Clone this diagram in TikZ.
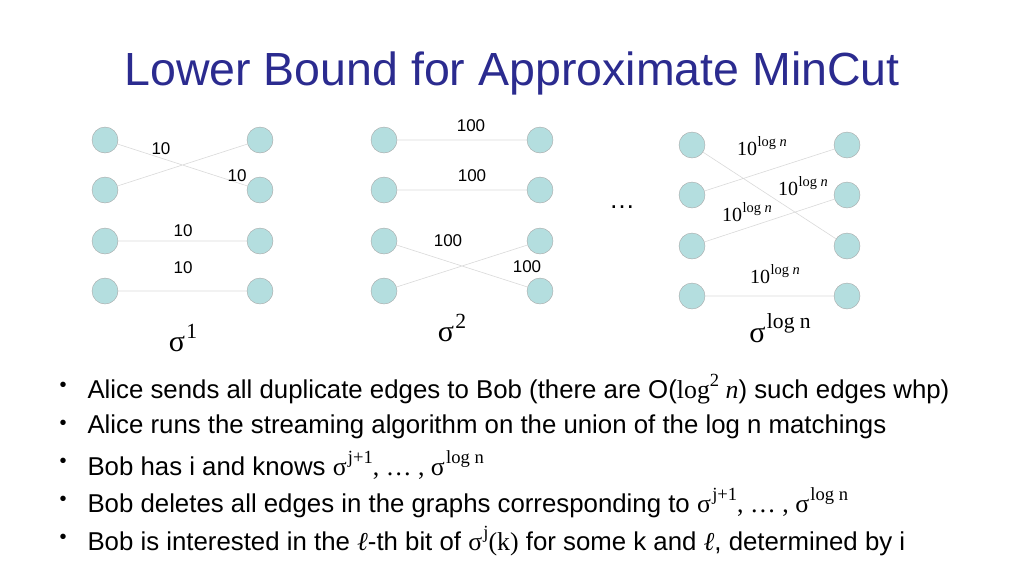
\documentclass[tikz,border=0pt]{standalone}
\usepackage{amsmath}
\usepackage[no-math]{fontspec}
\setmainfont{Liberation Sans}
\newfontfamily\mf{Liberation Serif}
\newcommand{\sgsup}[1]{{\mf σ\kern0.05em\raisebox{0.45em}{\scalebox{0.72}{#1}}}}
\newcommand{\tlog}{{\mf 10\kern0.03em\raisebox{0.45em}{\scalebox{0.72}{log \itshape n}}}}
\definecolor{nodefill}{HTML}{B4DEDF}
\definecolor{titleblue}{HTML}{2B2B8F}
\begin{document}
\begin{tikzpicture}[x=1pt,y=-1pt,
  vtx/.style={circle,draw=black!35,fill=nodefill,minimum size=26pt,inner sep=0pt},
  ed/.style={draw=black!15,line width=0.6pt},
  wl/.style={font=\fontsize{17}{19}\selectfont},
  tl/.style={font=\fontsize{20}{22}\selectfont},
  bl/.style={anchor=west,font=\fontsize{25.8}{28}\selectfont}]
\useasboundingbox (0,0) rectangle (1024,576);
\node[font=\fontsize{46.5}{50}\selectfont,text=titleblue] (title) at (512,73) {Lower Bound for Approximate MinCut};
\foreach \g/\xl/\xr/\yo in {a/105/260/0,b/384/540/0,c/692/847/5}{
  \foreach \i/\y in {1/140,2/190,3/241,4/291}{
    \node[vtx] (\g l\i) at (\xl,\y+\yo) {};
    \node[vtx] (\g r\i) at (\xr,\y+\yo) {};
  }}
\draw[ed] (al1)--(ar2) (al2)--(ar1) (al3)--(ar3) (al4)--(ar4);
\draw[ed] (bl1)--(br1) (bl2)--(br2) (bl3)--(br4) (bl4)--(br3);
\draw[ed] (cl1)--(cr3) (cl2)--(cr1) (cl3)--(cr2) (cl4)--(cr4);
\node[wl] (wa1) at (161,149) {10};
\node[wl] (wa2) at (237,176) {10};
\node[wl] (wa3) at (183,231) {10};
\node[wl] (wa4) at (183,268) {10};
\node[wl] (wb1) at (471,126) {100};
\node[wl] (wb2) at (472,176) {100};
\node[wl] (wb3) at (448,241) {100};
\node[wl] (wb4) at (527,267) {100};
\node[tl] (wc1) at (762,146) {\tlog};
\node[tl] (wc2) at (803,186) {\tlog};
\node[tl] (wc3) at (747,212) {\tlog};
\node[tl] (wc4) at (775,274) {\tlog};
\node[font=\fontsize{26}{28}\selectfont] (dots) at (622,207) {\dots};
\node[font=\fontsize{30}{32}\selectfont] (s1) at (183,338) {\sgsup{1}};
\node[font=\fontsize{30}{32}\selectfont] (s2) at (452,328) {\sgsup{2}};
\node[font=\fontsize{30}{32}\selectfont] (s3) at (780,328) {\sgsup{log n}};
\foreach \y/\t in {
 389/{Alice sends all duplicate edges to Bob (there are O({\mf log\raisebox{0.45em}{\scalebox{0.72}{2}} \itshape n}) such edges whp)},
 427/{Alice runs the streaming algorithm on the union of the log n matchings},
 465/{Bob has i and knows \sgsup{j+1}{\mf , … , }\sgsup{log n}},
 503/{Bob deletes all edges in the graphs corresponding to \sgsup{j+1}{\mf , … , }\sgsup{log n}},
 541/{Bob is interested in the {\mf\itshape ℓ}-th bit of \sgsup{j}{\mf(k)} for some k and {\mf\itshape ℓ}, determined by i}}{
 \node[bl,font=\fontsize{20}{22}\selectfont] at (56,\y-2) {•};
 \node[bl] at (84,\y) {\t};}
\end{tikzpicture}
\end{document}
